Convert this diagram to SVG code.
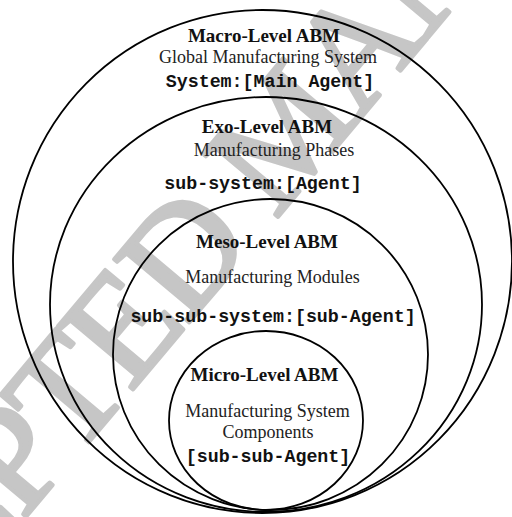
<svg xmlns="http://www.w3.org/2000/svg" width="512" height="517" viewBox="0 0 512 517">
<style>
.ring{fill:none;stroke:#000;stroke-width:1.8}
.t{font-family:"Liberation Serif","Times New Roman",serif;font-weight:bold;font-size:19px;fill:#111;text-anchor:middle}
.s{font-family:"Liberation Serif","Times New Roman",serif;font-size:18px;fill:#222;text-anchor:middle}
.m{font-family:"Liberation Mono","Courier New",monospace;font-weight:bold;font-size:18.3px;fill:#111;text-anchor:middle}
.wm{font-family:"Liberation Serif","Times New Roman",serif;font-size:150px;letter-spacing:-4px;fill:#c6c6c6;stroke:#c6c6c6;stroke-width:4;stroke-linejoin:round}
</style>
<rect width="512" height="517" fill="#fff"/>
<g id="watermark">
<text class="wm" transform="translate(-224,815) rotate(-50)">ACCEPTED MANUSCRIPT</text>
</g>
<g id="macro">
<ellipse class="ring" cx="262.5" cy="261.5" rx="249.5" ry="251.5"/>
<text class="t" x="264" y="42">Macro-Level ABM</text>
<text class="s" x="268" y="63">Global Manufacturing System</text>
<text class="m" x="270" y="87">System:[Main Agent]</text>
</g>
<g id="exo">
<ellipse class="ring" cx="266" cy="304.5" rx="216" ry="207.5"/>
<text class="t" x="267" y="133">Exo-Level ABM</text>
<text class="s" x="274" y="156">Manufacturing Phases</text>
<text class="m" x="263" y="189">sub-system:[Agent]</text>
</g>
<g id="meso">
<ellipse class="ring" cx="270.5" cy="354.5" rx="157.5" ry="155.5"/>
<text class="t" x="267" y="248">Meso-Level ABM</text>
<text class="s" x="272.5" y="283">Manufacturing Modules</text>
<text class="m" x="273" y="322">sub-sub-system:[sub-Agent]</text>
</g>
<g id="micro">
<ellipse class="ring" cx="266" cy="420.5" rx="97" ry="89.5"/>
<text class="t" x="264.5" y="381">Micro-Level ABM</text>
<text class="s" x="267.5" y="417">Manufacturing System</text>
<text class="s" x="268" y="438">Components</text>
<text class="m" x="268" y="462">[sub-sub-Agent]</text>
</g>
<g id="connectors"/>
</svg>
